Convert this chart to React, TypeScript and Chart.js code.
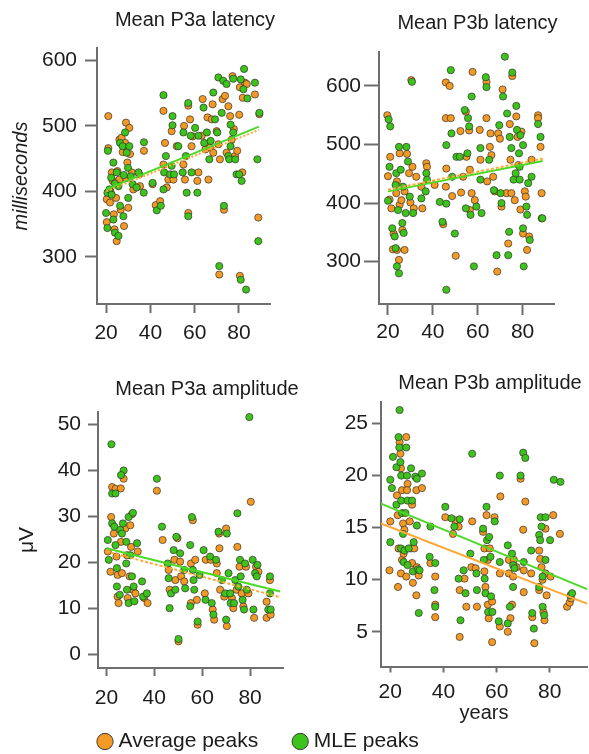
import React, { useEffect, useRef } from 'react';
import { Chart, registerables } from 'chart.js';

Chart.register(...registerables);

type Pt = [number, number];

// ---------------- DATA ----------------
const seriesNames = ['Average peaks', 'MLE peaks'];
const panelTitles = ['Mean P3a latency', 'Mean P3b latency', 'Mean P3a amplitude', 'Mean P3b amplitude'];
const latencyAxisTitle = 'milliseconds';
const amplitudeAxisTitle = 'μV';
const ageAxisTitle = 'years';

const ageTicks = [20, 40, 60, 80];
const latencyTicks = [300, 400, 500, 600];
const p3aAmpTicks = [0, 10, 20, 30, 40, 50];
const p3bAmpTicks = [5, 10, 15, 20, 25];

// Mean P3a latency (age, ms)
const p3aLatAvg: Pt[] = [[21,515],[21,466],[20.3,388],[20.3,353],[21.8,383],[22.6,429],[23,416],[23.8,342],[24.8,324],[25.1,431],[24.5,390],[26,418],[26.6,372],[26,479],[27,482],[28.1,347],[28.6,474],[29,505],[29.6,444],[30,375],[30.5,497],[30.8,457],[31.6,429],[32.3,403],[35,426],[35.3,408],[37.1,462],[41,411],[42.4,379],[44.4,385],[45.9,523],[45.9,441],[46.6,474],[47.4,406],[48.1,418],[49.6,492],[50.4,418],[51.9,469],[54.9,441],[55.2,500],[55.6,418],[57.1,367],[57.1,531],[57.9,510],[58.6,469],[59.1,484],[61.2,416],[61.7,429],[63.2,485],[63.6,541],[64.8,464],[65.8,513],[66.2,418],[66.9,467],[67.7,510],[68.1,533],[68.4,459],[69.9,492],[70.7,472],[71.1,273],[71.4,449],[72.6,541],[73.2,372],[73.7,546],[74.4,459],[75.2,530],[76,515],[76.7,479],[77.1,576],[77.7,495],[78.2,454],[79.2,462],[80.1,517],[80.4,271],[80.4,559],[81.5,429],[81.7,543],[82.7,566],[83.5,564],[87.2,548],[88.7,360],[89.2,518],[22,400],[23.5,365],[27.5,460],[29,420]];
const p3aLatMle: Pt[] = [[20.8,462],[20.6,398],[20,367],[20.6,344],[21.5,403],[22.3,421],[23.3,444],[23.3,357],[24,337],[25.6,332],[24.8,429],[25.6,408],[26.3,378],[26.3,474],[27.5,469],[27.8,362],[28.6,490],[29.3,459],[29.9,436],[30,390],[30.5,469],[31.1,423],[32,411],[33.8,406],[34.6,429],[37,398],[37.1,475],[41,413],[42.9,371],[44.7,378],[45.9,547],[45.9,403],[46.2,429],[47,454],[48.9,426],[49.6,439],[50,515],[50,501],[50.7,426],[52.6,469],[54.9,490],[54.6,429],[56,454],[56.4,398],[57.1,362],[57.1,535],[58.2,485],[58.6,429],[60.2,497],[61.2,398],[61.7,485],[64,528],[64.3,474],[65.5,490],[66.6,449],[67.2,477],[68.4,551],[69.2,510],[70.2,490],[70.7,574],[71.1,286],[72.2,520],[72.9,569],[73.2,378],[74.4,564],[75.2,454],[75.6,449],[76.2,502],[76.2,469],[77.4,572],[77.4,490],[78.3,449],[78.9,426],[80.1,426],[80.8,265],[80.8,571],[81.2,416],[82,556],[82.3,587],[83.8,542],[83.2,250],[87.2,566],[88.3,449],[88.7,324],[89.2,520],[22.5,395],[24,412],[28,425]];
const p3aLatAvgFit: Pt[] = [[20,400],[89,494]];
const p3aLatMleFit: Pt[] = [[20,403],[89,499]];

// Mean P3b latency (age, ms)
const p3bLatAvg: Pt[] = [[19.7,550],[20,446],[21,479],[20.7,406],[21.5,391],[22.2,321],[22.5,348],[23.7,417],[24,437],[24,320],[24.9,303],[25.2,397],[25.2,485],[26,405],[26.4,354],[27.4,320],[27.4,420],[28.5,484],[29.4,451],[30,401],[30.4,610],[30.9,462],[31.5,391],[32.6,445],[34.9,428],[35.3,391],[37.1,468],[37.4,462],[40.8,431],[44.6,364],[45.8,606],[47.5,600],[45.8,545],[48,545],[46,459],[45.8,428],[48.6,412],[50.2,310],[52.3,523],[52.6,418],[53.5,445],[54.7,556],[55,479],[56.2,524],[56.5,388],[56.5,457],[57.7,624],[57.3,417],[58.7,405],[60.9,525],[61.2,474],[63.9,607],[63.9,545],[64.2,437],[65.4,496],[65.7,519],[66.1,482],[66.9,445],[67.6,420],[68.7,283],[69.1,519],[69.9,510],[70.6,394],[71.1,594],[72.8,417],[73.6,331],[74.3,535],[74.6,474],[75,417],[75.4,617],[76.5,405],[77.2,548],[77.8,513],[78.1,465],[79,389],[79.5,522],[80.2,348],[81,420],[81.4,411],[82,320],[82.9,343],[84,474],[86.9,550],[86.9,545],[88,496],[88.5,417]];
const p3bLatMle: Pt[] = [[20.3,543],[21,531],[20.7,462],[20,404],[21.9,357],[23,343],[23.4,431],[23.7,451],[23.4,323],[24,292],[24.9,280],[24.5,388],[24.9,496],[25.7,457],[26.4,366],[27,349],[26.7,428],[27.9,383],[28.2,496],[28.9,471],[29.7,411],[30.7,607],[31.2,383],[34.9,408],[36.8,420],[37.1,451],[37.4,440],[43.1,402],[44.3,368],[48,627],[46,499],[46,399],[46,252],[48.3,519],[48.6,445],[49.8,348],[50.5,479],[52,479],[54.2,559],[54.7,391],[55.4,485],[55.7,545],[56.2,531],[56.8,380],[57.3,582],[58.3,292],[59.4,394],[61.2,494],[61.2,440],[61.7,383],[63.6,615],[63.9,598],[65.1,474],[67.2,422],[68.4,311],[69.6,533],[70.2,417],[70.6,400],[71.3,582],[72.1,650],[73.1,553],[73.6,311],[74,351],[74.3,513],[75,494],[75.4,623],[76,440],[76.9,451],[77.2,566],[77.5,525],[78.4,485],[78.7,462],[78.7,440],[79,516],[80.2,499],[80.2,357],[80.5,292],[81.7,394],[82,380],[82.5,434],[83.2,337],[84,445],[86.9,535],[88,513],[88.5,374],[88.8,374]];
const p3bLatAvgFit: Pt[] = [[20,423],[89,476]];
const p3bLatMleFit: Pt[] = [[20,420],[89,472]];

// Mean P3a amplitude (age, µV)
const p3aAmpAvg: Pt[] = [[22.4,36.4],[23.8,36],[27.2,38.2],[26,36.1],[20.6,22.4],[21.7,18],[22,29.9],[23.1,26.3],[24.2,21.3],[24.7,17.3],[24.7,12.6],[25.1,11.2],[26.1,24.5],[26.5,17.7],[27.9,27.4],[28.6,21.6],[28.9,12.3],[29.7,17],[30.3,23.4],[30,28.1],[30.7,30.5],[31.1,14.1],[32.1,13.3],[33.1,22.4],[35.8,12.3],[37.2,11.2],[41.1,35.6],[43.5,24.9],[46,18.4],[46.4,14.1],[48.4,20.6],[48.8,16.2],[49.7,25.3],[50.1,2.9],[50.8,20.2],[51.2,17],[52.5,15.9],[55.3,19.8],[55.3,11.2],[56.1,29.2],[57.1,20.6],[57.8,11.9],[58.1,6.5],[61.1,13.3],[61.5,20.6],[63.6,20.6],[64.4,9.8],[65,7.6],[66.1,19.8],[66.1,17.7],[67.1,26.3],[67.2,23.1],[67.5,14.1],[69.2,12.6],[70,27.4],[70.3,6.2],[72.4,12.3],[73,10.1],[74.4,14.1],[74.7,23.4],[75.6,19.1],[76.5,13.3],[77.2,10.5],[78.3,19.1],[79.3,13.3],[80.3,33.2],[81.7,8],[82.5,19.1],[83.5,18],[86.9,11.5],[86.9,8],[88.3,16.2],[88.6,8.7]];
const p3aAmpMle: Pt[] = [[22.1,45.7],[22.4,35],[23.8,35],[27.2,40],[26.1,39],[20.6,24.9],[21,20.6],[22.4,28.5],[23.3,27.8],[23.8,23.8],[24.4,18.8],[24.4,14.8],[25.6,13],[25.8,27.1],[26.5,26.3],[26.9,28.5],[28.3,24.5],[28.3,19.8],[28.6,14.1],[29.3,11.2],[30,21.6],[29.3,29.9],[31.1,30.8],[30.7,17],[31.4,14.8],[31.7,11.6],[32.8,24.2],[34.9,15.9],[35.3,12.6],[36.9,13.3],[41.1,38.2],[43.2,27.8],[45.6,19.8],[46,16.6],[46.4,10.1],[47,13.3],[48.1,22.7],[48.8,14.1],[49.2,25.6],[50.1,3.4],[50.8,22],[52.5,18.4],[52.9,14.4],[55,23.8],[55,10.5],[55.7,29.9],[56.1,18.4],[56.4,16.2],[56.7,14.1],[58.1,7.2],[58.9,17.3],[60.6,22.7],[61.4,11.9],[63.3,21.3],[64,11.2],[64.7,8.7],[65.8,20.6],[66.8,26.7],[68.2,16.2],[69.6,13.3],[70.3,26.3],[70,7.6],[71,17.7],[71.7,13.3],[71.9,11.2],[73.3,11.2],[73.8,16.2],[74.7,30.7],[75.1,14.8],[75.8,20.6],[76.1,17],[76.9,11.9],[77.5,9.8],[77.9,19.8],[78.6,14.1],[79.7,51.6],[81.1,20.6],[81.4,9.8],[82.1,17.7],[82.8,17],[83.1,19.5],[87.6,9.8],[88.3,17],[88.3,13.3],[88.6,9.8]];
const p3aAmpAvgFit: Pt[] = [[20,22.4],[92.5,12.5]];
const p3aAmpMleFit: Pt[] = [[20,23.1],[92.5,13.7]];

// Mean P3b amplitude (age, µV)
const p3bAmpAvg: Pt[] = [[19.7,10.9],[20,15.6],[22.5,18.1],[22.8,16.2],[23.1,13],[22.9,9.3],[23.5,23.2],[23.8,22.1],[24,20.7],[24.4,18.6],[24.8,15.4],[24.4,11.9],[24,10.6],[25,12.5],[26,23.7],[26.5,19.2],[26.3,18.6],[25.3,14.8],[26,10.3],[27.3,15.6],[28.2,17.2],[27.8,13],[28.2,11.6],[28.5,9.7],[29,13],[29.8,18.6],[29.8,8.5],[30,11.2],[30.7,10.4],[31.9,18.8],[35.1,11.6],[36.9,10.3],[36.9,7.6],[36.9,6.4],[40.7,16],[43.6,14.4],[44.5,15.7],[45.7,15.1],[46.1,9],[46.1,4.5],[47.9,10.1],[48.6,7.4],[50.8,15.6],[50.5,11.2],[52.1,11.1],[52.6,7.4],[54.9,14.6],[55.4,13],[55.4,10.8],[55.8,9.3],[56.2,16.2],[56.7,11.9],[56.7,7.6],[57,6.3],[57.4,13],[58.3,7.9],[58.3,4],[59.2,16],[61.4,18],[61.2,10.6],[61.2,5.5],[64.6,11.9],[64.6,10.6],[64.2,5],[65.2,6.3],[66.2,10.3],[65.8,7.6],[66.5,11.9],[67.5,11.2],[69,19.7],[70,14.8],[70.2,10.9],[70.2,8.8],[70.8,17.5],[73,10.6],[73.4,6.4],[74.2,3.9],[76,12.8],[76.4,12],[76,9],[76.9,11.2],[77.3,10],[77.6,6.9],[78,6.1],[78.4,14.9],[78.4,10.6],[78.8,8.5],[80.3,10.3],[81.3,16.2],[83.8,14.4],[86.5,7.4],[87.5,7.8],[88,8.2]];
const p3bAmpMle: Pt[] = [[23.5,26.3],[20,19.6],[20.6,18.8],[20,13.6],[21,21.8],[22.3,20.8],[22.3,17.2],[23.1,23.7],[23.4,22.7],[23.8,21.3],[24.1,20],[24.1,17.6],[24.4,16.4],[24.8,14.4],[24,13],[25,11.7],[25.3,12.8],[26,22.7],[26.3,20],[26.5,17.6],[25.7,16.4],[26.5,11.4],[26.9,13],[27.8,20.7],[28.2,17.6],[28.5,10.8],[28.8,13.6],[29.4,19.9],[30,15.2],[30.4,11],[31,10.9],[30.7,6.8],[30,19.7],[31.9,20.2],[35.1,15.1],[34.8,12.2],[36.9,11.6],[36.6,9],[36.9,7.4],[40.7,17],[43,15.9],[44.1,15.1],[46.1,15.8],[45.7,10.1],[46.4,6.1],[47.6,10.9],[48.3,8.7],[50.8,22.1],[50.1,12.5],[52.4,10.6],[52.6,9],[54.9,14.9],[55.2,11.9],[55.5,10.1],[55.8,8.7],[56.2,17],[56.4,13.8],[56.8,6.9],[57.2,14.1],[57.7,12.2],[57.9,8.4],[58.4,6.9],[59.3,15.6],[61.2,20],[61.2,11.7],[60.8,6],[64.2,13.3],[64.2,5.8],[65,7.4],[65.8,12.5],[66.2,11.4],[66.2,9.3],[66.7,11.1],[69,20],[70,22.2],[70.8,21.7],[70.2,11.7],[73,12.8],[73.4,6.8],[74,5.3],[76,14.3],[76.4,13.8],[76,9.3],[76.6,16],[76.9,15.1],[77.3,10.3],[77.3,7.4],[77.9,6.6],[78.4,16],[78.4,11.9],[80.1,13.8],[81.5,19.6],[84,19.4],[87.8,8.5],[88.4,8.7]];
const p3bAmpAvgFit: Pt[] = [[16.5,15.4],[94,7.7]];
const p3bAmpMleFit: Pt[] = [[16.5,17.3],[94,9.1]];

// ---------------- STYLE ----------------
const W = 589;
const H = 754;
const LEGEND_H = 762;
const FONT = '"Liberation Sans", Arial, Helvetica, sans-serif';
const avgColor = '#F39A26';
const mleColor = '#3CC41C';
const avgLineColor = '#FFA838';
const mleLineColor = '#4CD926';
const axisColor = '#6e6e6e';
const textColor = '#1c1c1c';
const pointEdge = 'rgba(50,45,40,0.85)';

Chart.defaults.font.family = FONT;

const panelTitlePlugin = {
  id: 'panelTitle',
  afterDraw(chart: any, _args: any, opts: any) {
    if (!opts || !opts.text) return;
    const ctx = chart.ctx;
    ctx.save();
    ctx.font = `${opts.size}px ${FONT}`;
    ctx.fillStyle = textColor;
    ctx.textAlign = 'center';
    ctx.textBaseline = 'alphabetic';
    ctx.fillText(opts.text, opts.x, opts.y);
    ctx.restore();
  },
};

const toXY = (pts: Pt[]) => pts.map(([x, y]) => ({ x, y }));

const scatterSet = (label: string, pts: Pt[], color: string) => ({
  label,
  data: toXY(pts),
  showLine: false,
  backgroundColor: color,
  borderColor: pointEdge,
  borderWidth: 0.8,
  pointRadius: 3.6,
  clip: false,
});

const fitSet = (label: string, pts: Pt[], color: string, dash: number[]) => ({
  label,
  data: toXY(pts),
  showLine: true,
  borderColor: color,
  backgroundColor: color,
  borderWidth: 2,
  borderDash: dash,
  pointRadius: 0,
  tension: 0,
  fill: false,
  clip: false,
});

interface PanelSpec {
  title: string;
  titleX: number;
  titleY: number;
  avg: Pt[];
  mle: Pt[];
  avgFit: Pt[];
  mleFit: Pt[];
  avgDash: number[];
  xMin: number;
  xMax: number;
  yMin: number;
  yMax: number;
  yTicks: number[];
  pad: { top: number; right: number; bottom: number };
  yAxisW: number;
  xAxisH: number;
  yTickLen: number;
  yTickPad: number;
  xTickLen: number;
  xTickPad: number;
  yTitle?: { text: string; size: number; italic: boolean; pad: number };
  xTitle?: { text: string; size: number; pad: number };
}

function panelConfig(p: PanelSpec): any {
  return {
    type: 'scatter',
    data: {
      datasets: [
        fitSet(seriesNames[0] + ' fit', p.avgFit, avgLineColor, p.avgDash),
        fitSet(seriesNames[1] + ' fit', p.mleFit, mleLineColor, []),
        scatterSet(seriesNames[1], p.mle, mleColor),
        scatterSet(seriesNames[0], p.avg, avgColor),
      ],
    },
    plugins: [panelTitlePlugin],
    options: {
      responsive: false,
      animation: false,
      devicePixelRatio: 1,
      events: [],
      layout: { autoPadding: false, padding: { left: 0, top: p.pad.top, right: p.pad.right, bottom: p.pad.bottom } },
      plugins: {
        legend: { display: false },
        tooltip: { enabled: false },
        panelTitle: { text: p.title, x: p.titleX, y: p.titleY, size: 20 },
      },
      scales: {
        x: {
          type: 'linear',
          position: 'bottom',
          min: p.xMin,
          max: p.xMax,
          afterBuildTicks: (s: any) => { s.ticks = ageTicks.map((v) => ({ value: v })); },
          afterFit: (s: any) => { s.height = p.xAxisH; },
          border: { display: true, color: axisColor, width: 2 },
          grid: { display: true, drawOnChartArea: false, drawTicks: true, tickLength: p.xTickLen, tickColor: axisColor, tickWidth: 2, color: axisColor },
          ticks: { padding: p.xTickPad, color: textColor, font: { size: 21 }, autoSkip: false, maxRotation: 0 },
          title: p.xTitle
            ? { display: true, text: p.xTitle.text, color: textColor, font: { size: p.xTitle.size }, padding: { top: 0, bottom: p.xTitle.pad } }
            : { display: false },
        },
        y: {
          type: 'linear',
          position: 'left',
          min: p.yMin,
          max: p.yMax,
          afterBuildTicks: (s: any) => { s.ticks = p.yTicks.map((v) => ({ value: v })); },
          afterFit: (s: any) => { s.width = p.yAxisW; },
          border: { display: true, color: axisColor, width: 2 },
          grid: { display: true, drawOnChartArea: false, drawTicks: true, tickLength: p.yTickLen, tickColor: axisColor, tickWidth: 2, color: axisColor },
          ticks: { padding: p.yTickPad, color: textColor, font: { size: 21 }, autoSkip: false },
          title: p.yTitle
            ? { display: true, text: p.yTitle.text, color: textColor, font: { size: p.yTitle.size, style: p.yTitle.italic ? 'italic' : 'normal' }, padding: { top: p.yTitle.pad, bottom: 0 } }
            : { display: false },
        },
      },
    },
  };
}

const panels: PanelSpec[] = [
  {
    title: panelTitles[0], titleX: 195, titleY: 26,
    avg: p3aLatAvg, mle: p3aLatMle, avgFit: p3aLatAvgFit, mleFit: p3aLatMleFit, avgDash: [2, 2],
    xMin: 15.9, xMax: 94, yMin: 228, yMax: 619, yTicks: latencyTicks,
    pad: { top: 48, right: 319, bottom: 400 }, yAxisW: 97, xAxisH: 50,
    yTickLen: 12, yTickPad: 8, xTickLen: 9, xTickPad: 8,
    yTitle: { text: latencyAxisTitle, size: 20, italic: true, pad: 9 },
  },
  {
    title: panelTitles[1], titleX: 477.5, titleY: 29,
    avg: p3bLatAvg, mle: p3bLatMle, avgFit: p3bLatAvgFit, mleFit: p3bLatMleFit, avgDash: [3, 2],
    xMin: 16, xMax: 94, yMin: 227.7, yMax: 658, yTicks: latencyTicks,
    pad: { top: 52, right: 35, bottom: 400 }, yAxisW: 379, xAxisH: 50,
    yTickLen: 15, yTickPad: 3, xTickLen: 11, xTickPad: 5,
  },
  {
    title: panelTitles[2], titleX: 207, titleY: 395,
    avg: p3aAmpAvg, mle: p3aAmpMle, avgFit: p3aAmpAvgFit, mleFit: p3aAmpMleFit, avgDash: [3, 2],
    xMin: 16.5, xMax: 93.75, yMin: -2.9, yMax: 52.7, yTicks: p3aAmpTicks,
    pad: { top: 412, right: 306, bottom: 36 }, yAxisW: 98, xAxisH: 50,
    yTickLen: 10, yTickPad: 7, xTickLen: 8, xTickPad: 10,
    yTitle: { text: amplitudeAxisTitle, size: 21, italic: false, pad: 14.4 },
  },
  {
    title: panelTitles[3], titleX: 490, titleY: 388.5,
    avg: p3bAmpAvg, mle: p3bAmpMle, avgFit: p3bAmpAvgFit, mleFit: p3bAmpMleFit, avgDash: [],
    xMin: 16.5, xMax: 94, yMin: 1.66, yMax: 27.07, yTicks: p3bAmpTicks,
    pad: { top: 402, right: 2, bottom: 0 }, yAxisW: 381, xAxisH: 87.5,
    yTickLen: 9, yTickPad: 4, xTickLen: 6, xTickPad: 7.5,
    xTitle: { text: ageAxisTitle, size: 20, pad: 29 },
  },
];

function legendConfig(): any {
  const fills = [avgColor, mleColor];
  return {
    type: 'scatter',
    data: { datasets: [] },
    options: {
      responsive: false,
      animation: false,
      devicePixelRatio: 1,
      events: [],
      layout: { autoPadding: false, padding: { left: 63, top: 0, right: 0, bottom: 0 } },
      scales: { x: { display: false }, y: { display: false } },
      plugins: {
        tooltip: { enabled: false },
        legend: {
          display: true,
          position: 'bottom',
          align: 'start',
          labels: {
            usePointStyle: true,
            boxWidth: 6,
            boxHeight: 11.5,
            padding: 39,
            color: textColor,
            font: { size: 21 },
            generateLabels: () =>
              seriesNames.map((text, i) => ({
                text,
                fillStyle: fills[i],
                strokeStyle: '#3a3a3a',
                lineWidth: 1,
                pointStyle: 'circle',
                hidden: false,
                datasetIndex: i,
                fontColor: textColor,
              })),
          },
        },
      },
    },
  };
}

function ChartCanvas({ build, height }: { build: () => any; height: number }) {
  const ref = useRef<HTMLCanvasElement>(null);
  useEffect(() => {
    if (!ref.current) return;
    const chart = new Chart(ref.current, build());
    return () => chart.destroy();
  }, []);
  return <canvas ref={ref} width={W} height={height} style={{ position: 'absolute', left: 0, top: 0 }} />;
}

export default function App() {
  return (
    <div style={{ position: 'absolute', left: 0, top: 0, width: W, height: H, overflow: 'hidden', background: '#ffffff' }}>
      {panels.map((p, i) => (
        <ChartCanvas key={i} height={H} build={() => panelConfig(p)} />
      ))}
      <ChartCanvas height={LEGEND_H} build={legendConfig} />
    </div>
  );
}
